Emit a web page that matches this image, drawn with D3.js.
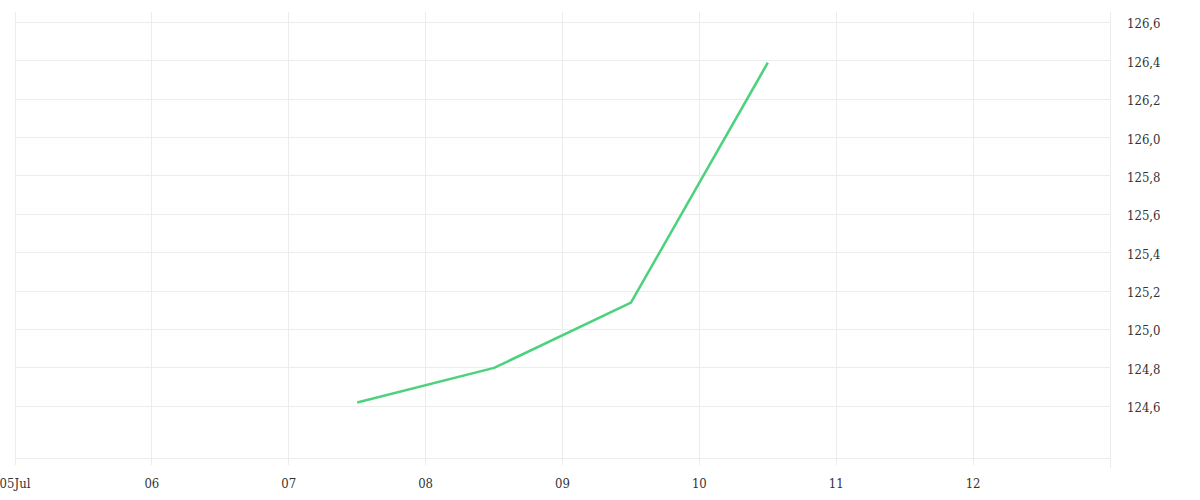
<!DOCTYPE html>
<html>
<head>
<meta charset="utf-8">
<script src="https://cdn.jsdelivr.net/npm/d3@7"></script>
<style>
  html, body { margin: 0; padding: 0; background: #fff; }
  svg { display: block; }
  text { font-family: "DejaVu Serif Condensed", "DejaVu Serif", serif; font-stretch: condensed; font-size: 13px; fill: #333; }
</style>
</head>
<body>
<svg id="chart" width="1200" height="500"></svg>
<script>
// Data
const dates = ["2023-07-07T12:00", "2023-07-08T12:00", "2023-07-09T12:00", "2023-07-10T12:00"];
const values = [124.62, 124.80, 125.14, 126.39];
const xTickLabels = ["05Jul", "06", "07", "08", "09", "10", "11", "12"];
const yTicks = [124.6, 124.8, 125.0, 125.2, 125.4, 125.6, 125.8, 126.0, 126.2, 126.4, 126.6];

(function () {
const parse = d3.timeParse("%Y-%m-%dT%H:%M");
const data = dates.map((d, i) => ({ date: parse(d), value: values[i] }));

const mLeft = 15, mRight = 1110, mTop = 12, mBottom = 458.3;
const svg = d3.select("#chart");

const x = d3.scaleTime()
  .domain([new Date(2023, 6, 5), new Date(2023, 6, 13)])
  .range([mLeft, mRight]);
const y = d3.scaleLinear()
  .domain([124.329, 126.654])
  .range([mBottom, mTop]);

const xTickDates = d3.timeDay.range(new Date(2023, 6, 5), new Date(2023, 6, 13));

// horizontal gridlines
svg.append("g").selectAll("line")
  .data(yTicks.concat([y.domain()[0]]))
  .join("line")
  .attr("x1", mLeft).attr("x2", mRight)
  .attr("y1", d => y(d)).attr("y2", d => y(d))
  .attr("stroke", "#ececec").attr("stroke-width", 1)
  .attr("shape-rendering", "crispEdges");

// vertical gridlines
svg.append("g").selectAll("line")
  .data(xTickDates)
  .join("line")
  .attr("x1", d => x(d)).attr("x2", d => x(d))
  .attr("y1", mTop).attr("y2", 465)
  .attr("stroke", "#ececec").attr("stroke-width", 1)
  .attr("shape-rendering", "crispEdges");

// right axis line
svg.append("line")
  .attr("x1", mRight).attr("x2", mRight)
  .attr("y1", mTop).attr("y2", 468)
  .attr("stroke", "#ececec").attr("stroke-width", 1)
  .attr("shape-rendering", "crispEdges");

// x labels
svg.append("g").selectAll("text")
  .data(xTickDates)
  .join("text")
  .attr("x", d => x(d))
  .attr("y", 488)
  .attr("text-anchor", "middle")
  .text((d, i) => xTickLabels[i]);

// y labels
const fmt = v => d3.format(".1f")(v).replace(".", ",");
svg.append("g").selectAll("text")
  .data(yTicks)
  .join("text")
  .attr("x", 1127)
  .attr("y", d => y(d) + 6)
  .attr("text-anchor", "start")
  .text(fmt);

// line
const line = d3.line().x(d => x(d.date)).y(d => y(d.value));
svg.append("path")
  .datum(data)
  .attr("d", line)
  .attr("fill", "none")
  .attr("stroke", "#4cd27c")
  .attr("stroke-width", 2.5)
  .attr("stroke-linejoin", "round");
})();
</script>
</body>
</html>
